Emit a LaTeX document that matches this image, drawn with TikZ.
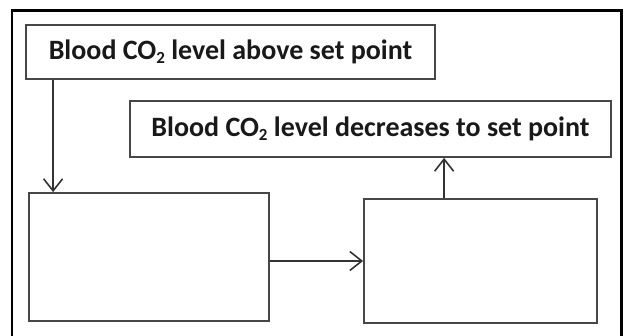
\documentclass[tikz,border=0pt]{standalone}
\usepackage{fontspec}
\setmainfont{Carlito}
\usetikzlibrary{arrows.meta,calc}
\newcommand{\subtwo}{\raisebox{-0.32ex}{\fontsize{17}{17}\selectfont 2}}
\begin{document}
\begin{tikzpicture}[x=1pt,y=-1pt,
  box/.style={draw=black!72,line width=1.8pt,fill=white,inner sep=0pt,font=\fontsize{28}{32}\selectfont\bfseries,text=black!90},
  arr/.style={draw=black!80,line width=1.6pt,-{Straight Barb[length=12pt,width=19pt,line width=1.6pt]}}]
\useasboundingbox (0,0) rectangle (624,335);
\clip (0,0) rectangle (624,335);
\fill[white] (0,0) rectangle (624,335);
\draw[line width=2.4pt,black] (12,345) -- (12,10.5) -- (621.5,10.5) -- (621.5,345);
\node[box,minimum width=409pt,minimum height=54pt] (b1) at (230.5,52) {Blood CO\subtwo\ level above set point};
\node[box,minimum width=481pt,minimum height=56pt] (b2) at (370.5,129) {Blood CO\subtwo\ level decreases to set point};
\node[box,minimum width=240pt,minimum height=128pt] (b3) at (149,257) {};
\node[box,minimum width=233pt,minimum height=124pt] (b4) at (480.5,261) {};
\coordinate (d1) at ($(b1.south west)+(28,0)$);
\draw[arr] (d1) -- (d1 |- b3.north);
\draw[arr] (b4.west -| b3.east) -- (b4.west);
\coordinate (u1) at ($(b4.north west)+(81,0)$);
\draw[arr] (u1) -- (u1 |- b2.south);
\end{tikzpicture}
\end{document}
